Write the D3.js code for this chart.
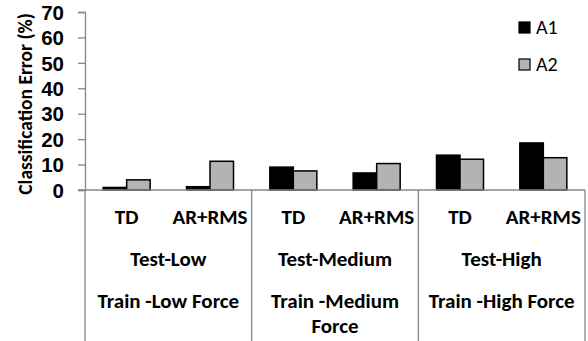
<!DOCTYPE html>
<html>
<head>
<meta charset="utf-8">
<script src="https://cdn.jsdelivr.net/npm/d3@7"></script>
<style>
  html, body { margin: 0; padding: 0; background: #fff; }
  svg { display: block; font-family: Carlito, Calibri, "Open Sans", sans-serif; }
</style>
</head>
<body>
<svg id="chart" width="588" height="341"></svg>
<script>
// ---- data ----
const categories = ["TD", "AR+RMS", "TD", "AR+RMS", "TD", "AR+RMS"];
const testLabels = ["Test-Low", "Test-Medium", "Test-High"];
const trainLabels = [["Train -Low Force"], ["Train -Medium", "Force"], ["Train -High Force"]];
const seriesNames = ["A1", "A2"];
const seriesA1 = [1.0, 1.3, 9.0, 6.7, 13.7, 18.5];
const seriesA2 = [4.0, 11.3, 7.5, 10.4, 12.1, 12.7];
const yTicks = [0, 10, 20, 30, 40, 50, 60, 70];
const colors = ["#000000", "#b3b3b3"];

// ---- layout ----
const svg = d3.select("#chart");
const mLeft = 85, mRight = 585, mTop = 12, mBottom = 190;
const axisColor = "#868686";

const x0 = d3.scaleBand().domain(d3.range(categories.length)).range([mLeft, mRight]).paddingInner(0).paddingOuter(0);
const barW = 23.5;
const x1 = d3.scaleBand().domain(seriesNames)
  .range([x0.bandwidth() / 2 - barW, x0.bandwidth() / 2 + barW]);
const y = d3.scaleLinear().domain([0, 70]).range([mBottom, mTop]);

// y axis
const yAxis = d3.axisLeft(y).tickValues(yTicks).tickSize(7).tickPadding(14).tickFormat(d3.format("d"));
const gy = svg.append("g").attr("transform", `translate(${mLeft},0)`).call(yAxis);
gy.select(".domain").attr("stroke", axisColor).attr("stroke-width", 1.3);
gy.selectAll(".tick line").attr("stroke", axisColor).attr("stroke-width", 1.3);
gy.selectAll(".tick text")
  .attr("fill", "#000").style("font-size", "20.5px").style("font-weight", "bold")
  .attr("dy", "0.35em");

// y title
svg.append("text")
  .attr("transform", `translate(32,104) rotate(-90)`)
  .attr("text-anchor", "middle")
  .style("font-size", "19.5px").style("font-weight", "bold")
  .text("Classification Error (%)");

// bars
const data = categories.map((c, i) => ({ i, values: [seriesA1[i], seriesA2[i]] }));
const g = svg.append("g");
data.forEach(d => {
  seriesNames.forEach((s, k) => {
    const v = d.values[k];
    g.append("rect")
      .attr("x", x0(d.i) + x1(s))
      .attr("y", y(v))
      .attr("width", x1.bandwidth())
      .attr("height", y(0) - y(v))
      .attr("fill", colors[k])
      .attr("stroke", "#000")
      .attr("stroke-width", 1.5);
  });
});

// x axis line (extends left like a tick)
svg.append("line")
  .attr("x1", mLeft - 7).attr("x2", mRight).attr("y1", y(0)).attr("y2", y(0))
  .attr("stroke", axisColor).attr("stroke-width", 1.3);

// group separators
const groupCount = testLabels.length;
const groupScale = d3.scaleBand().domain(d3.range(groupCount)).range([mLeft, mRight]);
const seps = d3.range(groupCount + 1).map(i => i < groupCount ? groupScale(i) : mRight);
svg.selectAll(".sep").data(seps).enter().append("line")
  .attr("x1", d => d).attr("x2", d => d)
  .attr("y1", y(0)).attr("y2", 341)
  .attr("stroke", axisColor).attr("stroke-width", 1.3);

const labelSize = "21px";
// category labels
svg.selectAll(".cat").data(categories).enter().append("text")
  .attr("x", (d, i) => x0(i) + x0.bandwidth() / 2)
  .attr("y", 224)
  .attr("text-anchor", "middle")
  .style("font-size", labelSize).style("font-weight", "bold")
  .text(d => d);

// test labels
svg.selectAll(".test").data(testLabels).enter().append("text")
  .attr("x", (d, i) => groupScale(i) + groupScale.bandwidth() / 2)
  .attr("y", 266)
  .attr("text-anchor", "middle")
  .style("font-size", labelSize).style("font-weight", "bold")
  .text(d => d);

// train labels
trainLabels.forEach((lines, i) => {
  lines.forEach((ln, j) => {
    svg.append("text")
      .attr("x", groupScale(i) + groupScale.bandwidth() / 2)
      .attr("y", 308 + j * 25)
      .attr("text-anchor", "middle")
      .style("font-size", labelSize).style("font-weight", "bold")
      .text(ln);
  });
});

// legend
const legend = svg.append("g").attr("transform", "translate(519,22)");
seriesNames.forEach((s, k) => {
  const lg = legend.append("g").attr("transform", `translate(0,${k * 37})`);
  lg.append("rect").attr("width", 11).attr("height", 11)
    .attr("fill", colors[k]).attr("stroke", "#000").attr("stroke-width", 1.2);
  lg.append("text").attr("x", 17).attr("y", 12)
    .style("font-size", "20px")
    .text(s);
});
</script>
</body>
</html>
